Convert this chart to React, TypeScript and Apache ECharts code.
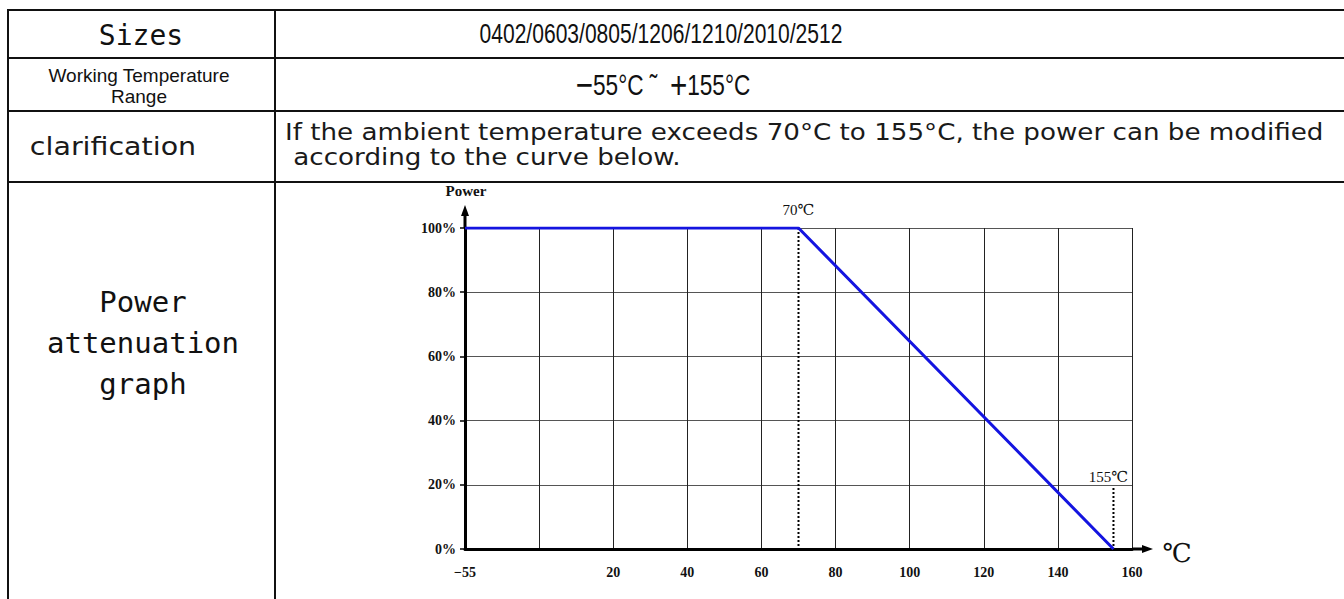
import React, { useEffect, useRef } from 'react';
import * as echarts from 'echarts';

// ---- table content ----
const rowHeaders = ['Sizes', 'Working Temperature\nRange', 'clarification', 'Power\nattenuation\ngraph'];
const sizesText = '0402/0603/0805/1206/1210/2010/2512';
const tempRangeParts = ['−', '55°C ˜  ', '+', '155°C'];
const clarificationLines = [
  'If the ambient temperature exceeds 70°C to 155°C, the power can be modified',
  ' according to the curve below.',
];

// ---- chart data ----
const curveTemps = [-55, 70, 155];
const curvePower = [100, 100, 0];
const xTickValues = [-20, 0, 20, 40, 60, 80, 100, 120, 140, 160];
const xTickLabels = ['−55', '', '20', '40', '60', '80', '100', '120', '140', '160'];
const yTickValues = [0, 20, 40, 60, 80, 100];
const markerTemps = [70, 155];
const markerTops = [100, 19];
const markerLabels = ['70℃', '155℃'];
const yAxisName = 'Power';
const xAxisUnit = '℃';

// broken axis: -55..0 is drawn compressed into one 20-unit slot
const toAxis = (t: number) => (t < 0 ? (t / 55) * 20 : t);

const SERIF = '"Liberation Serif", "DejaVu Serif", "Times New Roman", serif';

export default function App() {
  const ref = useRef<HTMLDivElement>(null);
  useEffect(() => {
    if (!ref.current) return;
    const chart = echarts.init(ref.current, null, { renderer: 'svg' });
    const option: any = {
      animation: false,
      backgroundColor: '#ffffff',
      grid: { left: 465, top: 228, width: 667, height: 321, containLabel: false },
      xAxis: {
        type: 'value',
        min: xTickValues[0],
        max: xTickValues[xTickValues.length - 1],
        interval: 20,
        axisLine: { show: true, onZero: false, lineStyle: { color: '#000', width: 3 } },
        axisTick: { show: false },
        axisLabel: {
          formatter: (v: number) => {
            const i = xTickValues.indexOf(v);
            return i >= 0 ? xTickLabels[i] : '';
          },
          fontFamily: SERIF,
          fontWeight: 'bold',
          fontSize: 14,
          color: '#111',
          margin: 16,
        },
        splitLine: { show: true, lineStyle: { color: '#222', width: 1 } },
      },
      yAxis: {
        type: 'value',
        min: yTickValues[0],
        max: yTickValues[yTickValues.length - 1],
        interval: 20,
        axisLine: { show: true, onZero: false, lineStyle: { color: '#000', width: 3 } },
        axisTick: { show: true, length: 5, lineStyle: { color: '#000', width: 1.5 } },
        axisLabel: {
          formatter: '{value}%',
          fontFamily: SERIF,
          fontWeight: 'bold',
          fontSize: 14,
          color: '#111',
          margin: 9,
        },
        splitLine: { show: true, lineStyle: { color: '#555', width: 1 } },
      },
      series: [
        {
          type: 'line',
          data: curveTemps.map((t, i) => [toAxis(t), curvePower[i]]),
          symbol: 'none',
          lineStyle: { color: '#1414e0', width: 3 },
          z: 5,
        },
        ...markerTemps.map((t, i) => ({
          type: 'line',
          data: [
            [toAxis(t), markerTops[i]],
            [toAxis(t), 0],
          ],
          symbol: 'none',
          lineStyle: { color: '#000', width: 2, type: [2, 2] },
          z: 4,
        })),
      ],
    };
    chart.setOption(option);

    const px = (x: number, y: number) => chart.convertToPixel({ gridIndex: 0 }, [x, y]) as number[];
    const origin = px(xTickValues[0], 0);
    const topPt = px(xTickValues[0], 100);
    const rightPt = px(xTickValues[xTickValues.length - 1], 0);
    const ox = origin[0];
    const oy = origin[1];

    const tableLine = (x1: number, y1: number, x2: number, y2: number) => ({
      type: 'line',
      shape: { x1, y1, x2, y2 },
      style: { stroke: '#111', lineWidth: 2 },
    });
    const txt = (x: number, y: number, text: string, font: string, align = 'center', extra: any = {}, lineHeight?: number, fill = '#111') => ({
      type: 'text',
      x,
      y,
      ...extra,
      style: {
        text,
        x: 0,
        y: 0,
        font,
        fill,
        textAlign: align,
        textVerticalAlign: 'middle',
        lineHeight,
      },
    });

    const signFont = '38px "Liberation Sans", Arial, sans-serif';
    const rangeText = tempRangeParts
      .map((p) => (p === '−' || p === '+' ? `{s|${p}}` : `{n|${p}}`))
      .join('');

    const graphics: any[] = [
      // table grid
      tableLine(7, 10, 1344, 10),
      tableLine(8, 58, 1344, 58),
      tableLine(8, 111, 1344, 111),
      tableLine(8, 182, 1344, 182),
      tableLine(8, 9, 8, 599),
      tableLine(275, 9, 275, 599),
      // row headers
      txt(141, 35, rowHeaders[0], '28px "DejaVu Sans Mono", monospace'),
      txt(139, 86, rowHeaders[1], '19px "Liberation Sans", Arial, sans-serif', 'center', {}, 21),
      txt(113, 146, rowHeaders[2], '25px "DejaVu Sans", sans-serif', 'center', { scaleX: 1.14 }, undefined, '#1a1a1a'),
      txt(143, 343, rowHeaders[3], '29px "DejaVu Sans Mono", monospace', 'center', {}, 41),
      // row values
      txt(661, 34, sizesText, '27px "Liberation Sans", Arial, sans-serif', 'center', { scaleX: 0.78 }),
      {
        type: 'text',
        x: 663,
        y: 85,
        scaleX: 0.78,
        style: {
          text: rangeText,
          x: 0,
          y: 0,
          fill: '#111',
          textAlign: 'center',
          textVerticalAlign: 'middle',
          rich: {
            s: { font: signFont, fill: '#111' },
            n: { font: '29px "Liberation Sans", Arial, sans-serif', fill: '#111' },
          },
        },
      },
      txt(285, 132, clarificationLines[0], '23px "DejaVu Sans", sans-serif', 'left', { scaleX: 1.138 }, undefined, '#1a1a1a'),
      txt(285, 157, clarificationLines[1], '23px "DejaVu Sans", sans-serif', 'left', { scaleX: 1.138 }, undefined, '#1a1a1a'),
      // chart decorations: axis extensions + arrows
      { type: 'line', shape: { x1: ox, y1: topPt[1], x2: ox, y2: topPt[1] - 16 }, style: { stroke: '#000', lineWidth: 3 } },
      {
        type: 'polygon',
        shape: { points: [[ox, topPt[1] - 23], [ox - 4, topPt[1] - 12], [ox + 4, topPt[1] - 12]] },
        style: { fill: '#000' },
      },
      { type: 'line', shape: { x1: rightPt[0], y1: oy, x2: rightPt[0] + 14, y2: oy }, style: { stroke: '#000', lineWidth: 3 } },
      {
        type: 'polygon',
        shape: { points: [[rightPt[0] + 21, oy], [rightPt[0] + 10, oy - 4], [rightPt[0] + 10, oy + 4]] },
        style: { fill: '#000' },
      },
      txt(ox + 1, topPt[1] - 37, yAxisName, `bold 15px ${SERIF}`),
    ];
    markerTemps.forEach((t, i) => {
      const p = px(toAxis(t), markerTops[i]);
      graphics.push(
        i === 0
          ? txt(p[0], p[1] - 18, markerLabels[i], `15px ${SERIF}`)
          : txt(p[0] - 5, p[1] - 11, markerLabels[i], `15px ${SERIF}`)
      );
    });
    graphics.push(txt(rightPt[0] + 45, oy + 4, xAxisUnit, `26px ${SERIF}`));

    chart.setOption({ graphic: graphics });
    return () => chart.dispose();
  }, []);
  return <div ref={ref} style={{ position: 'absolute', left: 0, top: 0, width: 1344, height: 599 }} />;
}
